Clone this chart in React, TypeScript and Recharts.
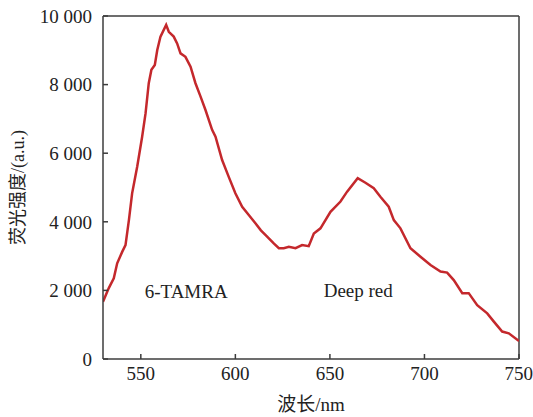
import { LineChart, Line, XAxis, YAxis, ReferenceLine, ReferenceDot, Label } from "recharts";

// wavelength (nm) and fluorescence intensity (a.u.)
const wavelength = [
  530, 533, 535.7, 537.5, 540.2, 541.9, 543.7, 545.4, 548.1, 550.7, 552.5, 554.2, 555.6, 557.4,
  558.7, 560.4, 563.4, 564.8, 567.4, 569.2, 571, 573.6, 576.3, 578.9, 581.6, 584.2, 587.7, 589.5,
  593, 596.5, 600, 603.6, 607.1, 610.6, 613.5, 616.8, 620.3, 623, 625.6, 628.3, 631.8, 635.3,
  638.8, 641.5, 645, 650.3, 655.6, 659.1, 664.7, 668.8, 673.2, 676.7, 681.1, 683.8, 687.3, 692.6,
  697.9, 703.2, 708.5, 712, 715.5, 720, 723.4, 727.9, 733.2, 736.7, 741.1, 744.6, 750,
];
const intensity = [
  1670, 2060, 2350, 2790, 3130, 3320, 4050, 4830, 5610, 6480, 7160, 8040, 8430, 8570,
  9010, 9400, 9740, 9540, 9400, 9200, 8910, 8810, 8520, 8040, 7650, 7260, 6680, 6480,
  5800, 5310, 4830, 4440, 4200, 3960, 3750, 3570, 3370, 3230, 3230, 3270, 3230, 3320,
  3290, 3660, 3810, 4290, 4590, 4880, 5270, 5140, 4980, 4730, 4440, 4050, 3810, 3230,
  2980, 2740, 2550, 2520, 2300, 1920, 1920, 1570, 1330, 1090, 800, 750, 525,
];

const xTicks = [550, 600, 650, 700, 750];
const yTicks = [0, 2000, 4000, 6000, 8000, 10000];

const data = wavelength.map((w, i) => ({ w, v: intensity[i] }));

const font = "'Liberation Serif', 'DejaVu Serif', 'Noto Sans CJK SC', serif";
const axisColor = "#3c3c3c";
const fmt = (v: number) => String(v).replace(/\B(?=(\d{3})+(?!\d))/g, " ");
const txt = { fontSize: 19, fill: "#222", fontFamily: font };

export default function App() {
  return (
    <div style={{ position: "absolute", left: 0, top: 0, background: "#fff" }}>
      <style>{`.recharts-wrapper text { font-family: ${font}; }`}</style>
      <LineChart width={533} height={417} data={data} margin={{ top: 16, right: 14, bottom: 0, left: 1 }}>
        <XAxis
          dataKey="w"
          type="number"
          domain={[530, 750]}
          ticks={xTicks}
          allowDataOverflow
          stroke={axisColor}
          strokeWidth={1.5}
          tickSize={-5}
          tickMargin={13}
          tick={txt}
          height={58}
        >
          <Label value="波长/nm" position="insideBottom" offset={6} style={txt} />
        </XAxis>
        <YAxis
          type="number"
          domain={[0, 10000]}
          ticks={yTicks}
          tickFormatter={fmt}
          stroke={axisColor}
          strokeWidth={1.5}
          tickSize={-5}
          tickMargin={16}
          width={102}
          tick={txt}
        >
          <Label
            value="荧光强度/(a.u.)"
            angle={-90}
            position="insideLeft"
            offset={17}
            style={{ ...txt, fontSize: 18, textAnchor: "middle" }}
          />
        </YAxis>
        <ReferenceLine y={10000} stroke={axisColor} strokeWidth={1.5} />
        <ReferenceLine x={750} stroke={axisColor} strokeWidth={1.5} />
        <Line
          type="linear"
          dataKey="v"
          stroke="#c4282c"
          strokeWidth={2.5}
          dot={false}
          isAnimationActive={false}
        />
        <ReferenceDot x={574} y={1980} r={0} stroke="none" fill="none">
          <Label value="6-TAMRA" position="center" style={txt} />
        </ReferenceDot>
        <ReferenceDot x={665} y={2010} r={0} stroke="none" fill="none">
          <Label value="Deep red" position="center" style={txt} />
        </ReferenceDot>
      </LineChart>
    </div>
  );
}
